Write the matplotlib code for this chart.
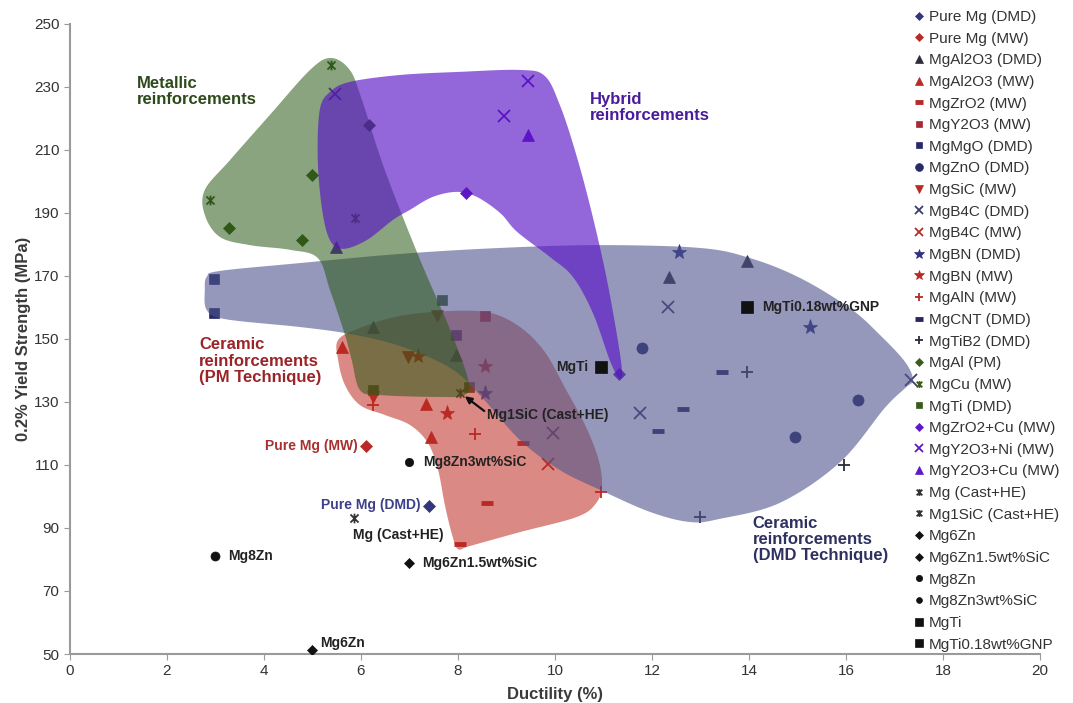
import numpy as np
import matplotlib
matplotlib.use("Agg")
from matplotlib import pyplot as plt
from matplotlib.path import Path

plt.rcParams['font.family'] = ['Liberation Sans', 'DejaVu Sans']

# ---- data: ductility (%) and 0.2% yield strength (MPa) per material ----
pure_mg_dmd_x = [7.4]
pure_mg_dmd_y = [97]
pure_mg_mw_x = [6.1]
pure_mg_mw_y = [116]
mgal2o3_dmd_x = [6.25, 7.95, 12.35, 13.95]
mgal2o3_dmd_y = [153.8, 144.9, 169.7, 174.8]
mgal2o3_mw_x = [5.6, 7.35, 7.45]
mgal2o3_mw_y = [147.5, 129.4, 118.9]
mgzro2_mw_x = [9.35, 8.6, 8.05]
mgzro2_mw_y = [117, 98, 85]
mgy2o3_mw_x = [8.55]
mgy2o3_mw_y = [157.3]
mgmgo_dmd_x = [2.97, 2.97, 7.95]
mgmgo_dmd_y = [169, 158.3, 151.3]
mgzno_dmd_x = [11.8, 16.25, 14.95]
mgzno_dmd_y = [147.1, 130.6, 118.9]
mgsic_mw_x = [7.57, 6.97, 6.25]
mgsic_mw_y = [157.3, 144.3, 131.6]
mgb4c_dmd_x = [12.33, 11.75, 17.35, 9.95]
mgb4c_dmd_y = [160.2, 126.5, 137, 120.2]
mgb4c_mw_x = [9.85]
mgb4c_mw_y = [110.3]
mgbn_dmd_x = [8.55, 12.55, 15.25]
mgbn_dmd_y = [132.9, 177.6, 153.8]
mgbn_mw_x = [7.18, 8.55, 7.77]
mgbn_mw_y = [144.6, 141.4, 126.5]
mgaln_mw_x = [8.35, 6.25, 10.95]
mgaln_mw_y = [119.8, 129, 101.5]
mgcnt_dmd_x = [13.45, 12.65, 12.12]
mgcnt_dmd_y = [139.5, 127.8, 120.8]
mgtib2_dmd_x = [13.95, 15.95, 13.0]
mgtib2_dmd_y = [139.5, 110, 93.5]
mgal_pm_x = [3.28, 5.0, 4.78, 6.16]
mgal_pm_y = [185.2, 202.1, 181.4, 217.9]
mgcu_mw_x = [5.38, 2.89, 5.88]
mgcu_mw_y = [237, 194.1, 188.4]
mgti_dmd_x = [7.67, 6.25, 8.23]
mgti_dmd_y = [162.4, 133.8, 134.8]
mgzro2cu_mw_x = [8.16, 11.32]
mgzro2cu_mw_y = [196.3, 138.9]
mgy2o3ni_mw_x = [5.46, 9.44, 8.95]
mgy2o3ni_mw_y = [227.8, 231.9, 220.8]
mgy2o3cu_mw_x = [5.48, 9.44]
mgy2o3cu_mw_y = [179.2, 214.8]
mg_cast_x = [5.85]
mg_cast_y = [93.2]
mg1sic_cast_x = [8.05]
mg1sic_cast_y = [132.9]
mg6zn_x = [5.0]
mg6zn_y = [51.3]
mg6zn_sic_x = [7.0]
mg6zn_sic_y = [79]
mg8zn_x = [3.0]
mg8zn_y = [81]
mg8zn_sic_x = [7.0]
mg8zn_sic_y = [111]
mgti_x = [10.95]
mgti_y = [141]
mgti_gnp_x = [13.95]
mgti_gnp_y = [160.2]

# ---- outlines of the shaded groups (ductility, strength) ----
metallic_outline = [(5.38, 239.2), (5.77, 235.4), (6.02, 225.9), (6.49, 203.7), (7.22, 175.1),
                    (7.84, 152.9), (8.21, 137.0), (8.14, 132.2), (7.63, 131.6), (6.39, 132.2),
                    (5.98, 133.8), (5.81, 143.3), (5.67, 151.3), (5.36, 165.6), (5.11, 175.7),
                    (4.54, 178.3), (3.71, 179.8), (3.09, 182.4), (2.78, 189.4), (2.78, 197.3),
                    (3.30, 206.8), (4.12, 221.1), (4.95, 235.4)]
hybrid_outline = [(5.36, 228.4), (5.77, 231.6), (6.80, 233.8), (8.04, 234.8), (9.28, 235.4),
                  (9.79, 233.5), (10.10, 224.3), (10.41, 210.0), (10.72, 192.5), (11.03, 171.9),
                  (11.26, 152.9), (11.38, 140.2), (11.32, 137.6), (11.13, 143.3), (10.78, 158.3),
                  (10.37, 169.7), (9.90, 176.0), (9.22, 184.0), (8.87, 190.0), (8.39, 195.1),
                  (7.98, 196.7), (7.48, 195.1), (7.01, 191.0), (6.66, 187.8), (6.12, 181.4),
                  (5.63, 178.6), (5.36, 181.4), (5.20, 191.0), (5.11, 206.8), (5.15, 222.7)]
dmd_outline = [(2.78, 165.6), (2.82, 159.2), (3.20, 156.3), (4.74, 153.8), (5.77, 151.6),
               (6.80, 147.8), (7.84, 140.8), (8.45, 132.2), (9.28, 117.9), (10.10, 108.4),
               (10.93, 102.1), (11.96, 95.1), (12.78, 91.9), (13.40, 92.9), (14.64, 98.0),
               (15.88, 110.9), (16.80, 128.1), (17.22, 134.4), (17.38, 137.0), (17.22, 142.7),
               (16.70, 151.3), (16.08, 159.8), (15.05, 169.4), (14.02, 175.7), (12.99, 178.9),
               (10.93, 179.8), (8.87, 178.9), (6.80, 177.0), (4.74, 174.1), (3.09, 171.6),
               (2.82, 169.7)]
pm_outline = [(5.53, 149.7), (5.98, 153.5), (6.80, 157.3), (7.84, 158.9), (8.66, 158.3),
              (9.28, 153.8), (9.79, 145.9), (10.21, 134.4), (10.62, 122.7), (10.89, 112.2),
              (10.97, 103.7), (10.85, 97.9), (10.45, 93.5), (9.28, 88.7), (8.25, 84.3),
              (8.00, 83.3), (7.88, 87.8), (7.73, 97.3), (7.59, 108.4), (7.38, 117.0),
              (7.01, 122.7), (6.49, 125.9), (5.98, 129.0), (5.67, 135.4), (5.53, 143.3)]


def smooth_closed(pts, n=16):
    # closed Catmull-Rom curve through the outline points
    p = np.asarray(pts, float)
    N = len(p)
    t = np.linspace(0, 1, n, endpoint=False)[:, None]
    segs = []
    for i in range(N):
        p0, p1, p2, p3 = p[i - 1], p[i], p[(i + 1) % N], p[(i + 2) % N]
        segs.append(0.5 * (2 * p1 + (-p0 + p2) * t + (2 * p0 - 5 * p1 + 4 * p2 - p3) * t ** 2
                           + (-p0 + 3 * p1 - 3 * p2 + p3) * t ** 3))
    return np.vstack(segs)


# asterisk-like marker: an x with a vertical stroke
star_x = Path([(-1, -1), (1, 1), (-1, 1), (1, -1), (0, -1.2), (0, 1.2)],
              [Path.MOVETO, Path.LINETO, Path.MOVETO, Path.LINETO, Path.MOVETO, Path.LINETO])

navy = '#34367c'
red = '#b82a28'
slate = '#2c2c3a'
green = '#3a5a1e'
purple = '#5f18c8'
black = '#111111'

# label, x, y, marker, color, size, filled, on_top
series = [
    ('Pure Mg (DMD)', pure_mg_dmd_x, pure_mg_dmd_y, 'D', navy, 6, True, False),
    ('Pure Mg (MW)', pure_mg_mw_x, pure_mg_mw_y, 'D', red, 6, True, False),
    ('MgAl2O3 (DMD)', mgal2o3_dmd_x, mgal2o3_dmd_y, '^', slate, 8, True, False),
    ('MgAl2O3 (MW)', mgal2o3_mw_x, mgal2o3_mw_y, '^', red, 8, True, False),
    ('MgZrO2 (MW)', mgzro2_mw_x, mgzro2_mw_y, '_', red, 8, False, False),
    ('MgY2O3 (MW)', mgy2o3_mw_x, mgy2o3_mw_y, 's', '#a8283a', 6.5, True, False),
    ('MgMgO (DMD)', mgmgo_dmd_x, mgmgo_dmd_y, 's', '#262a66', 6.5, True, False),
    ('MgZnO (DMD)', mgzno_dmd_x, mgzno_dmd_y, 'o', '#262a66', 8, True, False),
    ('MgSiC (MW)', mgsic_mw_x, mgsic_mw_y, 'v', red, 8, True, False),
    ('MgB4C (DMD)', mgb4c_dmd_x, mgb4c_dmd_y, 'x', '#3a3c70', 8, False, False),
    ('MgB4C (MW)', mgb4c_mw_x, mgb4c_mw_y, 'x', red, 8, False, False),
    ('MgBN (DMD)', mgbn_dmd_x, mgbn_dmd_y, '*', '#2e3080', 11, True, False),
    ('MgBN (MW)', mgbn_mw_x, mgbn_mw_y, '*', red, 11, True, False),
    ('MgAlN (MW)', mgaln_mw_x, mgaln_mw_y, '+', red, 9, False, False),
    ('MgCNT (DMD)', mgcnt_dmd_x, mgcnt_dmd_y, '_', '#26285c', 8, False, False),
    ('MgTiB2 (DMD)', mgtib2_dmd_x, mgtib2_dmd_y, '+', slate, 9, False, False),
    ('MgAl (PM)', mgal_pm_x, mgal_pm_y, 'D', green, 6.5, True, False),
    ('MgCu (MW)', mgcu_mw_x, mgcu_mw_y, star_x, green, 7, False, False),
    ('MgTi (DMD)', mgti_dmd_x, mgti_dmd_y, 's', green, 6.5, True, False),
    ('MgZrO2+Cu (MW)', mgzro2cu_mw_x, mgzro2cu_mw_y, 'D', purple, 6.5, True, False),
    ('MgY2O3+Ni (MW)', mgy2o3ni_mw_x, mgy2o3ni_mw_y, 'x', purple, 9, False, False),
    ('MgY2O3+Cu (MW)', mgy2o3cu_mw_x, mgy2o3cu_mw_y, '^', purple, 8, True, False),
    ('Mg (Cast+HE)', mg_cast_x, mg_cast_y, star_x, '#333333', 7, False, True),
    ('Mg1SiC (Cast+HE)', mg1sic_cast_x, mg1sic_cast_y, star_x, '#333333', 7, False, False),
    ('Mg6Zn', mg6zn_x, mg6zn_y, 'D', black, 5.5, True, True),
    ('Mg6Zn1.5wt%SiC', mg6zn_sic_x, mg6zn_sic_y, 'D', black, 5.5, True, True),
    ('Mg8Zn', mg8zn_x, mg8zn_y, 'o', black, 6.5, True, True),
    ('Mg8Zn3wt%SiC', mg8zn_sic_x, mg8zn_sic_y, 'o', black, 6, True, True),
    ('MgTi', mgti_x, mgti_y, 's', black, 8.5, True, True),
    ('MgTi0.18wt%GNP', mgti_gnp_x, mgti_gnp_y, 's', black, 8.5, True, True),
]

fig = plt.figure(figsize=(10.73, 7.03), dpi=100)
ax = fig.add_axes([0.0652, 0.0697, 0.9040, 0.8962])

handles = []
for label, xs, ys, mk, col, ms, filled, on_top in series:
    mew = 1.3
    if mk == '_':
        mew = 3.5
    line, = ax.plot(xs, ys, linestyle='none', marker=mk, markersize=ms,
                    color=col, markerfacecolor=col if filled else 'none',
                    markeredgecolor=col, markeredgewidth=mew if not filled else 0.5,
                    label=label, zorder=8 if on_top else 1)
    handles.append(line)

# shaded groups go over most of the points, like the original overlay
groups = [(pm_outline, (0.745, 0.16, 0.12), 0.55, 2),
          (dmd_outline, (0.31, 0.33, 0.55), 0.6, 3),
          (metallic_outline, (0.16, 0.35, 0.08), 0.55, 4),
          (hybrid_outline, (0.35, 0.08, 0.78), 0.65, 5)]
for outline, col, alpha, z in groups:
    pts = smooth_closed(outline)
    ax.fill(pts[:, 0], pts[:, 1], color=col, alpha=alpha, lw=0, zorder=z)

# group names
grp_kw = dict(fontsize=12, fontweight='bold', va='top', ha='left', linespacing=1.1, zorder=9)
ax.text(1.38, 233.5, 'Metallic\nreinforcements', color='#2d4a1a', **grp_kw)
ax.text(10.72, 228.5, 'Hybrid\nreinforcements', color='#4a1c9c', **grp_kw)
ax.text(2.66, 150.5, 'Ceramic\nreinforcements\n(PM Technique)', color='#9a2428', **grp_kw)
ax.text(14.08, 93.8, 'Ceramic\nreinforcements\n(DMD Technique)', color='#2e3160', **grp_kw)

# point labels
pt_kw = dict(fontsize=10, fontweight='bold', va='center', zorder=9)
ax.text(5.94, 116, 'Pure Mg (MW)', color='#a83030', ha='right', **pt_kw)
ax.text(7.24, 97.3, 'Pure Mg (DMD)', color='#3c3f8a', ha='right', **pt_kw)
ax.text(5.84, 87.8, 'Mg (Cast+HE)', color='#222222', ha='left', **pt_kw)
ax.text(3.26, 81.1, 'Mg8Zn', color='#222222', ha='left', **pt_kw)
ax.text(7.26, 78.9, 'Mg6Zn1.5wt%SiC', color='#222222', ha='left', **pt_kw)
ax.text(5.15, 53.4, 'Mg6Zn', color='#222222', ha='left', **pt_kw)
ax.text(7.28, 111, 'Mg8Zn3wt%SiC', color='#222222', ha='left', **pt_kw)
ax.text(10.68, 141.1, 'MgTi', color='#222222', ha='right', **pt_kw)
ax.text(14.27, 160.2, 'MgTi0.18wt%GNP', color='#222222', ha='left', **pt_kw)
ax.annotate('Mg1SiC (Cast+HE)', xy=(mg1sic_cast_x[0], mg1sic_cast_y[0]), xytext=(8.6, 125.8),
            fontsize=10, fontweight='bold', color='#222222', ha='left', va='center', zorder=9,
            arrowprops=dict(arrowstyle='-|>', color='#111111', lw=1.6, mutation_scale=10,
                            shrinkA=0, shrinkB=4, relpos=(0.0, 0.65)))

ax.set_xlim(0, 20)
ax.set_ylim(50, 250)
ax.set_xticks(np.arange(0, 21, 2))
ax.set_yticks(np.arange(50, 251, 20))
for s in ['top', 'right']:
    ax.spines[s].set_visible(False)
for s in ['left', 'bottom']:
    ax.spines[s].set_color('#9a9a9a')
    ax.spines[s].set_linewidth(1.5)
ax.tick_params(direction='out', length=4, color='#9a9a9a', labelsize=11, labelcolor='#333333')
ax.set_xlabel('Ductility (%)', fontsize=12, fontweight='bold', color='#3a3a3a', labelpad=6)
ax.set_ylabel('0.2% Yield Strength (MPa)', fontsize=12, fontweight='bold', color='#3a3a3a',
              labelpad=2)

fig.legend(handles=handles, loc='upper left', bbox_to_anchor=(913 / 1073, 1 - 10 / 703),
           frameon=False, fontsize=11, handlelength=0.8, handletextpad=0.25,
           labelspacing=0.5, borderpad=0, borderaxespad=0, markerscale=0.7,
           labelcolor='#333333')

fig.savefig('out.png', dpi=100)
